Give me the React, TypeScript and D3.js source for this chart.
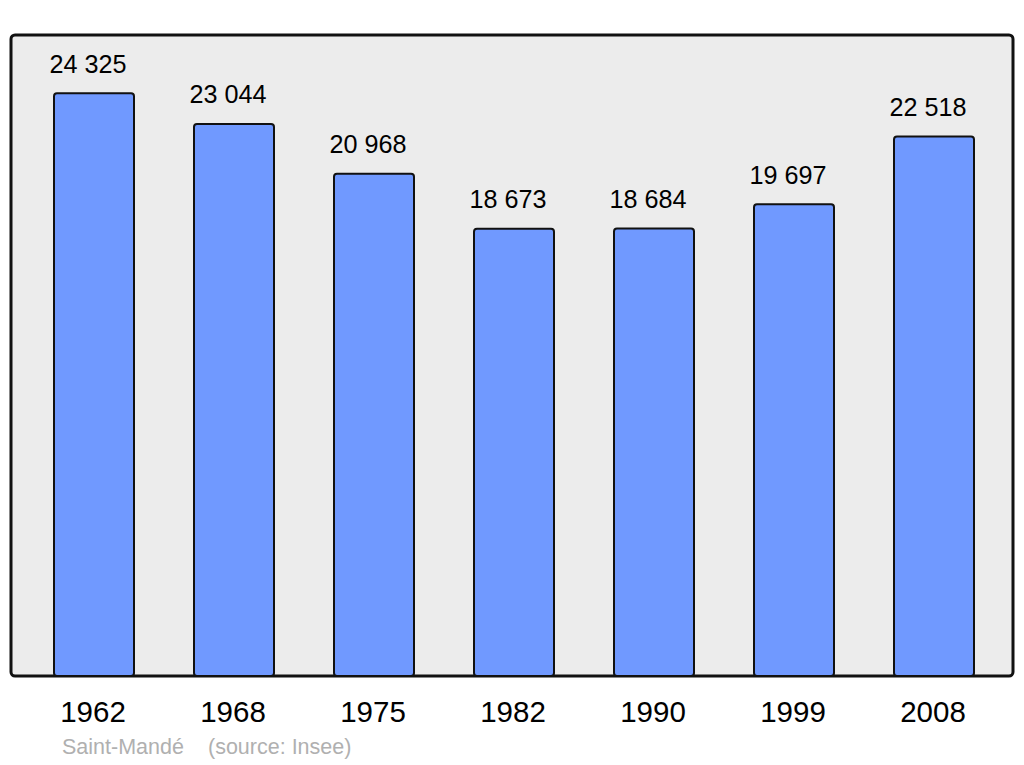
import React from "react";
import * as d3 from "d3";

const years = ["1962", "1968", "1975", "1982", "1990", "1999", "2008"];
const population = [24325, 23044, 20968, 18673, 18684, 19697, 22518];
const commune = "Saint-Mandé";
const source = "(source: Insee)";

const W = 1024;
const H = 765;
const panel = { x0: 11, x1: 1013, y0: 35, y1: 676 };

const fmt = (v: number) => {
  const s = String(v);
  return s.replace(/\B(?=(\d{3})+(?!\d))/g, " ");
};

export default function App() {
  const x = d3
    .scaleBand<string>()
    .domain(years)
    .range([24, 1004])
    .paddingInner(3 / 7)
    .paddingOuter(3 / 14);
  const y = d3
    .scaleLinear()
    .domain([0, d3.max(population)! * 1.1])
    .range([panel.y1, panel.y0]);

  const font = "'Liberation Sans', Arial, sans-serif";

  return (
    <svg
      width={W}
      height={H}
      style={{ position: "absolute", left: 0, top: 0, fontFamily: font }}
    >
      <rect x={0} y={0} width={W} height={H} fill="#fff" />
      <rect
        x={panel.x0}
        y={panel.y0}
        width={panel.x1 - panel.x0}
        height={panel.y1 - panel.y0}
        rx={4}
        fill="#ececec"
        stroke="#111"
        strokeWidth={3}
      />
      {years.map((yr, i) => {
        const bx = x(yr)!;
        const bw = x.bandwidth();
        const top = y(population[i]);
        return (
          <g key={yr}>
            <rect
              x={bx}
              y={top}
              width={bw}
              height={panel.y1 - top}
              rx={3}
              fill="#7099ff"
              stroke="#111"
              strokeWidth={2}
            />
            <text
              x={bx + bw / 2 - 6}
              y={top - 20.5}
              textAnchor="middle"
              fontSize={25.2}
              fill="#000"
            >
              {fmt(population[i])}
            </text>
            <text
              x={bx + bw / 2 - 1}
              y={722}
              textAnchor="middle"
              fontSize={29.5}
              fill="#000"
            >
              {yr}
            </text>
          </g>
        );
      })}
      <text x={62} y={754} fontSize={21.5} fill="#b0b0b0">
        {commune}
      </text>
      <text x={208} y={754} fontSize={21.5} fill="#b0b0b0">
        {source}
      </text>
    </svg>
  );
}
